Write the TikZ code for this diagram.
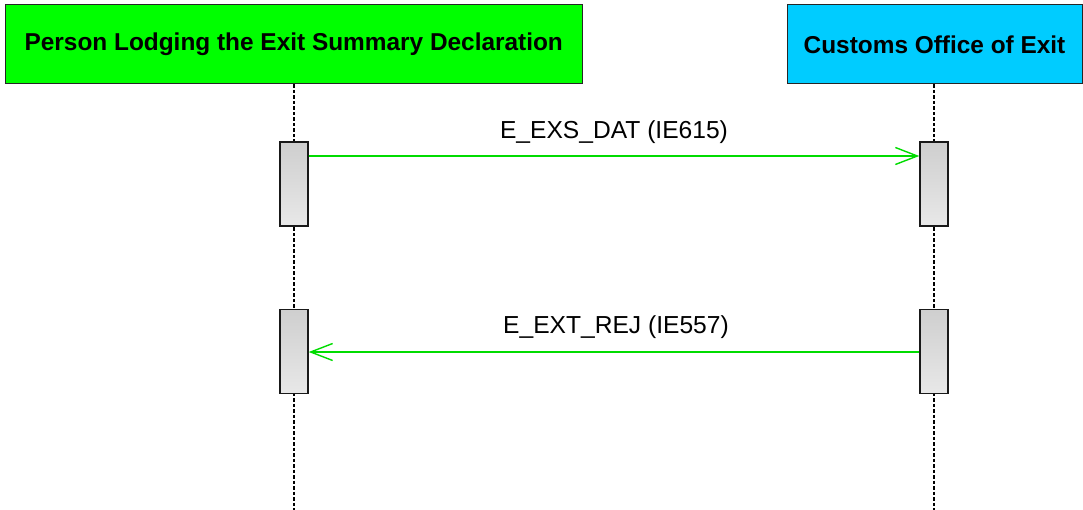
\documentclass[tikz,border=0pt]{standalone}
\usepackage{fontspec}
\setmainfont{Liberation Sans}
\usetikzlibrary{arrows.meta,calc}
\definecolor{hdrgreen}{RGB}{0,255,0}
\definecolor{hdrcyan}{RGB}{0,204,255}
\definecolor{msggreen}{RGB}{0,220,0}
\tikzset{
  header/.style={draw=black!85, line width=1pt, minimum height=79pt, inner sep=0pt,
    font=\fontsize{24.4}{28}\selectfont\bfseries},
  lifeline/.style={draw=black, line width=1.4pt, dash pattern=on 3.5pt off 2pt},
  actbox/.style={draw=black!90, line width=1.4pt, minimum width=28pt, minimum height=84pt,
    inner sep=0pt, top color=black!19, bottom color=black!9},
  msg/.style={draw=msggreen, line width=1.4pt, -{Straight Barb[length=22pt,width=17pt,line width=1.4pt]}},
  msglabel/.style={anchor=base, inner sep=0pt, font=\fontsize{24.6}{28}\selectfont}
}
\begin{document}
\begin{tikzpicture}[x=1pt,y=-1pt]
\useasboundingbox (0,0) rectangle (1083,510);
% headers
\node[header, fill=hdrgreen, minimum width=576.5pt] (p) at (293.75,44.5) {Person Lodging the Exit Summary Declaration};
\node[header, fill=hdrcyan, minimum width=295pt] (c) at (934.5,44.5) {Customs Office of Exit};
% lifelines
\coordinate (pend) at (294,510);
\coordinate (cend) at (934,510);
\draw[lifeline] (p.south -| pend) -- (pend);
\draw[lifeline] (c.south -| cend) -- (cend);
% activations
\node[actbox] (a1l) at (294,184) {};
\node[actbox] (a1r) at (934,184) {};
\node[actbox] (a2l) at (294,351.5) {};
\node[actbox] (a2r) at (934,351.5) {};
% messages
\coordinate (y1) at (0,156);
\coordinate (y2) at (0,352);
\coordinate (m1s) at (a1l.east |- y1);
\coordinate (m1e) at (a1r.west |- y1);
\draw[msg] (m1s) -- (m1e);
\node[msglabel] (l1) at ($(m1s)!0.5!(m1e)+(0,-17)$) {E\_EXS\_DAT (IE615)};
\coordinate (m2s) at (a2r.west |- y2);
\coordinate (m2e) at (a2l.east |- y2);
\draw[msg] (m2s) -- (m2e);
\node[msglabel] (l2) at ($(m2s)!0.5!(m2e)+(2,-18.4)$) {E\_EXT\_REJ (IE557)};
\end{tikzpicture}
\end{document}
